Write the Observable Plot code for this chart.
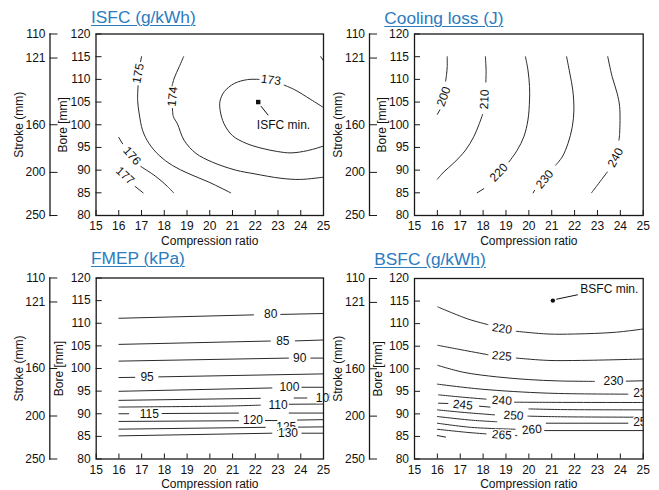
<!DOCTYPE html>
<html><head><meta charset="utf-8">
<script src="https://cdn.jsdelivr.net/npm/d3@7"></script>
<script src="https://cdn.jsdelivr.net/npm/@observablehq/plot@0.6"></script>
<style>
body{margin:0;background:#fff;}
#fig{position:relative;width:659px;height:490px;overflow:hidden;background:#fff;font-family:"Liberation Sans",Arial,sans-serif;}
.panel{position:absolute;overflow:hidden;}
.panel svg{overflow:hidden;display:block;}
.title{position:absolute;font-size:17.3px;line-height:17px;color:#2b7bbf;text-decoration:underline;text-underline-offset:2px;text-decoration-thickness:1px;white-space:nowrap;letter-spacing:0;}
</style></head><body><div id="fig"></div>
<script>
// ---------- axis tick values ----------
const compressionTicks = [15, 16, 17, 18, 19, 20, 21, 22, 23, 24, 25];
const boreTicks = [80, 85, 90, 95, 100, 105, 110, 115, 120];
const strokeTicks = [110, 121, 160, 200, 250];
const strokeTickBore = [120, 114.7, 100, 89.5, 80];

const panelTitles = ["ISFC (g/kWh)", "Cooling loss (J)", "FMEP (kPa)", "BSFC (g/kWh)"];

// ---------- ISFC ----------
const isfcContours = [
  {level: 173, segments: [
    [[25, 103.8], [24.44, 105.57], [23.71, 107.78], [23.27, 108.73]],
    [[22.17, 110.0], [21.66, 109.95], [21.08, 109.1], [20.64, 107.3], [20.45, 105.2], [20.46, 103.1], [20.63, 100.2], [21.0, 97.6], [21.6, 95.9], [22.3, 94.8], [22.98, 94.1], [23.57, 93.8], [24.3, 94.3], [25, 95.3]]
  ]},
  {level: 174, segments: [
    [[24.88, 115], [25, 114.1]],
    [[18.85, 115], [18.66, 112.8], [18.44, 110.3], [18.34, 108.5]],
    [[18.36, 103.6], [18.4, 101.8], [18.58, 100.2], [18.87, 96.6], [19.39, 93.7], [20.12, 91.75], [21.14, 90.0], [21.95, 89.2], [23.13, 88.2], [24.0, 87.95], [25, 88.45]]
  ]},
  {level: 175, segments: [
    [[17.0, 115], [16.96, 113.9]],
    [[16.85, 108.6], [16.83, 105.34], [16.9, 102.4], [17.05, 98.73], [17.34, 95.8], [17.78, 93.22], [18.36, 91.02], [19.09, 89.19], [19.97, 87.34], [20.92, 85]]
  ]},
  {level: 176, segments: [
    [[16, 97.2], [16.17, 95.8]],
    [[16.97, 90.8], [17.63, 88.6], [18.14, 86.4], [18.41, 85]]
  ]},
  {level: 177, segments: [
    [[16.72, 86.4], [17.07, 85]]
  ]}
];
const isfcLabels = [
  {text: "173", x: 22.69, y: 109.84},
  {text: "174", x: 18.37, y: 106.2},
  {text: "175", x: 16.86, y: 111.3},
  {text: "176", x: 16.58, y: 93.15},
  {text: "177", x: 16.28, y: 88.8}
];
const isfcLabelAngles = [8, -84, -80, 48, 42];
const isfcMinPoint = {x: 22.13, y: 105.0};
const isfcMinLeader = {x1: 22.25, y1: 104.1, x2: 22.57, y2: 102.1};
const isfcMinLabel = {text: "ISFC min.", x: 22.07, y: 99.9};

// ---------- Cooling loss ----------
const coolContours = [
  {level: 200, segments: [
    [[16.43, 115], [16.43, 112.84], [16.4, 111.0], [16.36, 109.6]],
    [[16.11, 103.3], [16.0, 102.3]]
  ]},
  {level: 210, segments: [
    [[18.1, 115], [18.13, 112.1], [18.12, 109.4]],
    [[17.98, 102.3], [17.81, 99.93], [17.59, 97.34], [17.23, 94.39], [16.72, 91.59], [16.28, 89.59], [16, 88.0]]
  ]},
  {level: 220, segments: [
    [[19.85, 115], [19.96, 112.1], [20.03, 108.41], [20.03, 105.46], [19.96, 101.03], [19.78, 97.34], [19.49, 94.39], [19.13, 91.8]],
    [[18.03, 85.9], [17.74, 85]]
  ]},
  {level: 230, segments: [
    [[21.65, 115], [21.79, 111.37], [21.92, 107.68], [21.97, 103.25], [21.9, 99.56], [21.71, 95.87], [21.46, 92.92], [21.17, 91.07]],
    [[20.25, 85.54], [20.19, 85]]
  ]},
  {level: 240, segments: [
    [[23.45, 115], [23.64, 110.63], [23.86, 106.94], [23.97, 103.99], [23.97, 98.08], [23.94, 96.6]],
    [[23.43, 89.59], [22.99, 86.64], [22.74, 85]]
  ]}
];
const coolLabels = [
  {text: "200", x: 16.28, y: 106.2},
  {text: "210", x: 18.06, y: 105.6},
  {text: "220", x: 18.69, y: 89.45},
  {text: "230", x: 20.69, y: 87.97},
  {text: "240", x: 23.79, y: 92.77}
];
const coolLabelAngles = [-70, -88, -47, -50, -62];

// ---------- FMEP ----------
const fmepContours = [
  {level: 80, segments: [[[16, 111.1], [21.92, 111.85]], [[23.12, 111.95], [25, 112.15]]]},
  {level: 85, segments: [[[16, 105.33], [22.66, 106.07]], [[23.76, 106.1], [25, 106.3]]]},
  {level: 90, segments: [[[16, 101.63], [23.46, 102.3]], [[24.44, 102.3], [25, 102.3]]]},
  {level: 95, segments: [[[16, 98.0], [16.7, 98.05]], [[17.75, 98.15], [25, 98.81]]]},
  {level: 100, segments: [[[16, 94.96], [22.73, 95.7]], [[24.05, 95.85], [25, 95.85]]]},
  {level: 105, segments: [[[16, 92.96], [22.22, 93.41]], [[23.71, 93.48], [24.27, 93.48]]]},
  {level: 110, segments: [[[16, 91.48], [20.7, 91.7], [22.22, 91.9]], [[23.49, 92.1], [25, 92.15]]]},
  {level: 115, segments: [[[16, 90.0], [16.43, 90.0]], [[17.9, 90.05], [21.26, 90.15]], [[23.49, 90.15], [25, 90.15]]]},
  {level: 120, segments: [[[16, 88.3], [21.26, 88.45]], [[22.44, 88.5], [22.95, 88.5]], [[23.86, 88.6], [25, 88.7]]]},
  {level: 125, segments: [[[16, 86.59], [22.44, 87.0]], [[23.9, 87.04], [25, 87.1]]]},
  {level: 130, segments: [[[16, 85.11], [22.73, 85.7]], [[24.05, 85.7], [25, 85.7]]]}
];
const fmepLabels = [
  {text: "80", x: 22.68, y: 112.0},
  {text: "85", x: 23.21, y: 106.1},
  {text: "90", x: 23.95, y: 102.3},
  {text: "95", x: 17.24, y: 98.1},
  {text: "100", x: 23.5, y: 95.85},
  {text: "105", x: 25.1, y: 93.55},
  {text: "110", x: 23.0, y: 91.85},
  {text: "115", x: 17.34, y: 90.0},
  {text: "120", x: 21.9, y: 88.5},
  {text: "125", x: 23.36, y: 87.1},
  {text: "130", x: 23.44, y: 85.75}
];
const fmepLabelAngles = [0, 0, 0, 0, 0, 0, 0, 0, 0, 0, 0];

// ---------- BSFC ----------
const bsfcContours = [
  {level: 220, segments: [
    [[16.02, 113.7], [17.33, 111.04], [18.21, 109.78]],
    [[19.45, 108.3], [20.83, 107.7], [22.0, 107.7], [23.75, 108.07], [25, 108.81]]
  ]},
  {level: 225, segments: [
    [[16.02, 105.19], [17.19, 104.07], [18.21, 103.11]],
    [[19.45, 102.37], [20.83, 101.85], [22.3, 101.85], [25, 102.15]]
  ]},
  {level: 230, segments: [
    [[16.02, 100.74], [17.16, 99.2], [18.6, 98.2], [20.0, 97.6], [21.3, 97.3], [22.87, 97.2]],
    [[24.26, 97.25], [25, 97.33]]
  ]},
  {level: 235, segments: [
    [[16.0, 96.59], [17.92, 95.48], [20.83, 94.59], [24.33, 94.37]]
  ]},
  {level: 240, segments: [
    [[16.05, 94.22], [17.1, 93.7], [18.13, 93.26]],
    [[19.37, 92.59], [21, 92.55], [25, 92.52]]
  ]},
  {level: 245, segments: [
    [[16.05, 92.37], [16.46, 92.3]],
    [[17.84, 91.7], [18.3, 91.5]],
    [[20.0, 91.1], [21.5, 90.95], [25, 90.89]]
  ]},
  {level: 250, segments: [
    [[16.0, 90.89], [17.2, 90.3], [18.5, 89.78]],
    [[19.96, 89.5], [21.5, 89.35], [25, 89.26]]
  ]},
  {level: 255, segments: [
    [[16.0, 89.41], [17.5, 88.6], [18.6, 88.25]],
    [[20.76, 87.93], [24.33, 87.93]]
  ]},
  {level: 260, segments: [
    [[16.0, 87.93], [17.5, 87.0], [19.4, 86.6]],
    [[20.69, 86.3], [25, 86.3]]
  ]},
  {level: 265, segments: [
    [[16.0, 86.59], [17.3, 85.9], [18.13, 85.56]],
    [[19.42, 85.2], [19.48, 85.18]]
  ]},
  {level: 270, segments: [
    [[16.0, 85.19], [16.36, 84.85]]
  ]}
];
const bsfcLabels = [
  {text: "220", x: 18.82, y: 108.89},
  {text: "225", x: 18.82, y: 102.81},
  {text: "230", x: 23.7, y: 97.2},
  {text: "235", x: 25.0, y: 94.5},
  {text: "240", x: 18.82, y: 92.96},
  {text: "245", x: 17.11, y: 92.0},
  {text: "250", x: 19.33, y: 89.63},
  {text: "255", x: 25.0, y: 88.07},
  {text: "260", x: 20.13, y: 86.5},
  {text: "265", x: 18.82, y: 85.33}
];
const bsfcLabelAngles = [8, 5, 0, 0, 4, 6, 4, 0, -5, 5];
const bsfcMinPoint = {x: 21.05, y: 115.1};
const bsfcMinLeader = {x1: 21.2, y1: 115.4, x2: 22.14, y2: 116.4};
const bsfcMinLabel = {text: "BSFC min.", x: 22.25, y: 117.56};

// ---------- rendering ----------
const strokeLabel = new Map(strokeTickBore.map((b, i) => [b, strokeTicks[i]]));
const INK = "#1a1a1a";

function panel(cfg) {
  const g = cfg.geom;
  const rows = [];
  cfg.contours.forEach((c, ci) => c.segments.forEach((s, si) => s.forEach(([x, y]) => rows.push({x, y, id: ci + "-" + si}))));
  const labels = cfg.labels.map((d, i) => ({...d, angle: cfg.angles[i]}));
  const marks = [
    Plot.line(rows, {x: "x", y: "y", z: "id", stroke: "#2a2a2a", strokeWidth: 1, curve: "catmull-rom"}),
    Plot.text(labels, {x: "x", y: "y", text: "text", rotate: "angle", fontSize: 12, fill: "#111", stroke: "white", strokeWidth: 2.5, paintOrder: "stroke", clip: cfg.clipLabels ? "frame" : null}),
    ...(cfg.extra || []),
    Plot.frame({stroke: INK, strokeWidth: 1.3}),
    Plot.frame({anchor: "left", dx: g.strokeDx, stroke: INK, strokeWidth: 1.3}),
    Plot.axisX(compressionTicks, {anchor: "bottom", tickSize: 5, dy: -5, text: null, label: null, stroke: INK}),
    Plot.axisX(compressionTicks, {anchor: "bottom", tickSize: 0, tickPadding: 6, label: null, fill: "#111"}),
    Plot.axisY(boreTicks, {anchor: "left", tickSize: 6, dx: 6, text: null, label: null, stroke: INK}),
    Plot.axisY(boreTicks, {anchor: "left", tickSize: 0, tickPadding: 5.5, label: null, fill: "#111"}),
    Plot.axisY(strokeTickBore, {anchor: "left", tickSize: 8, dx: g.strokeDx + 8, text: null, label: null, stroke: INK}),
    Plot.axisY(strokeTickBore, {anchor: "left", tickSize: 0, tickPadding: 4.5, dx: g.strokeDx, label: null, fill: "#111", tickFormat: d => strokeLabel.get(d)}),
    Plot.text(["Bore [mm]"], {frameAnchor: "left", dx: g.boreLabelDx, rotate: -90, text: d => d, lineAnchor: "middle", textAnchor: "middle", fontSize: 12, fill: "#111"}),
    Plot.text(["Stroke (mm)"], {frameAnchor: "left", dx: g.strokeLabelDx, rotate: -90, text: d => d, lineAnchor: "middle", textAnchor: "middle", fontSize: 12, fill: "#111"}),
    Plot.text(["Compression ratio"], {frameAnchor: "bottom", dy: g.xLabelDy, text: d => d, lineAnchor: "middle", fontSize: 12, fill: "#111"})
  ];
  const svg = Plot.plot({
    width: g.width, height: g.height,
    marginLeft: g.marginLeft, marginRight: g.marginRight, marginTop: g.marginTop, marginBottom: g.marginBottom,
    style: {fontFamily: '"Liberation Sans", Arial, sans-serif', fontSize: "12px", background: "white", color: "#111", overflow: "hidden"},
    x: {domain: [15, 25]},
    y: {domain: [80, 120]},
    marks
  });
  const div = document.createElement("div");
  div.className = "panel";
  div.style.left = g.left + "px";
  div.style.top = g.top + "px";
  div.style.width = g.width + "px";
  div.style.height = g.height + "px";
  div.appendChild(svg);
  return div;
}

const fig = document.getElementById("fig");

const geomTL = {left: 0, top: 0, width: 330, height: 250, marginLeft: 95.5, marginRight: 7, marginTop: 33.5, marginBottom: 35, strokeDx: -46, strokeLabelDx: -77, boreLabelDx: -32.5, xLabelDy: 26};
const geomTR = {left: 330, top: 0, width: 329, height: 250, marginLeft: 84, marginRight: 16.3, marginTop: 33.5, marginBottom: 35, strokeDx: -45, strokeLabelDx: -76, boreLabelDx: -32, xLabelDy: 26};
const geomBL = {left: 0, top: 250, width: 330, height: 240, marginLeft: 95.7, marginRight: 7, marginTop: 27.5, marginBottom: 31.5, strokeDx: -46.4, strokeLabelDx: -77, boreLabelDx: -37.5, xLabelDy: 25.5};
const geomBR = {left: 330, top: 250, width: 329, height: 240, marginLeft: 84, marginRight: 16.3, marginTop: 28, marginBottom: 31.5, strokeDx: -45, strokeLabelDx: -76, boreLabelDx: -36.5, xLabelDy: 25.5};

fig.appendChild(panel({geom: geomTL, contours: isfcContours, labels: isfcLabels, angles: isfcLabelAngles, extra: [
  Plot.dot([isfcMinPoint], {x: "x", y: "y", symbol: "square", r: 2.5, fill: "#111"}),
  Plot.link([isfcMinLeader], {x1: "x1", y1: "y1", x2: "x2", y2: "y2", stroke: "#111", strokeWidth: 1}),
  Plot.text([isfcMinLabel], {x: "x", y: "y", text: "text", textAnchor: "start", fontSize: 12, fill: "#111"})
]}));
fig.appendChild(panel({geom: geomTR, contours: coolContours, labels: coolLabels, angles: coolLabelAngles}));
fig.appendChild(panel({geom: geomBL, contours: fmepContours, labels: fmepLabels, angles: fmepLabelAngles}));
fig.appendChild(panel({geom: geomBR, contours: bsfcContours, labels: bsfcLabels, angles: bsfcLabelAngles, clipLabels: true, extra: [
  Plot.dot([bsfcMinPoint], {x: "x", y: "y", r: 2.2, fill: "#111"}),
  Plot.link([bsfcMinLeader], {x1: "x1", y1: "y1", x2: "x2", y2: "y2", stroke: "#111", strokeWidth: 1}),
  Plot.text([bsfcMinLabel], {x: "x", y: "y", text: "text", textAnchor: "start", fontSize: 12, fill: "#111"})
]}));

const titlePos = [[91, 9], [384.3, 9.5], [91, 250], [374.3, 250.5]];
panelTitles.forEach((t, i) => {
  const d = document.createElement("div");
  d.className = "title";
  d.textContent = t;
  d.style.left = titlePos[i][0] + "px";
  d.style.top = titlePos[i][1] + "px";
  fig.appendChild(d);
});
</script></body></html>
